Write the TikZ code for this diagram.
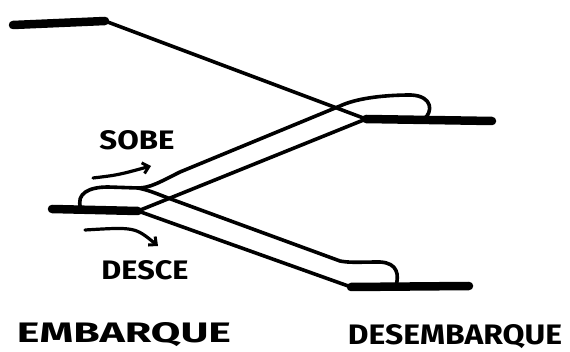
\documentclass[tikz,border=0pt]{standalone}
\usepackage{fontspec}
\setmainfont{Fira Sans}
\usetikzlibrary{arrows.meta}
\begin{document}
\begin{tikzpicture}[x=1pt,y=-1pt,
  thin line/.style={line width=3.6pt,line cap=round,line join=round},
  platform/.style={line width=8.5pt,line cap=round},
  flow/.style={line width=3.2pt,line cap=round,-{Straight Barb[length=6pt,width=11pt,line width=3pt]}},
  label/.style={inner sep=0pt,font=\bfseries}]
\useasboundingbox (0,0) rectangle (570,352);
% named coordinates
\coordinate (tl1) at (13,25);
\coordinate (tl2) at (105,21);
\coordinate (rm1) at (366,119);
\coordinate (rm2) at (492,121);
\coordinate (lp1) at (52,209);
\coordinate (lp2) at (138,211);
\coordinate (bp1) at (351,287);
\coordinate (bp2) at (469,286);
\coordinate (lt) at (138,188);
% top thin line
\draw[thin line] (tl2) -- (rm1);
% left loop + SOBE upper + right loop
\draw[thin line] (81,209) .. controls (75,193) and (90,187) .. (108,187) -- (lt)
  .. controls (150,188) and (160,182) .. (180,172) -- (340,106)
  .. controls (355,99) and (380,95) .. (411,95)
  .. controls (433,96) and (433,112) .. (424,119);
% DESCE upper + bottom loop
\draw[thin line] (lt) .. controls (148,190) and (155,193) .. (168,198) -- (340,261)
  .. controls (350,263) and (360,262) .. (380,262)
  .. controls (398,263) and (399,275) .. (396,286);
% SOBE lower
\draw[thin line] (lp2) -- (rm1);
% DESCE lower
\draw[thin line] (lp2) -- (bp1);
% platforms
\draw[platform] (tl1) -- (tl2);
\draw[platform] (rm1) -- (rm2);
\draw[platform] (lp1) -- (lp2);
\draw[platform] (bp1) -- (bp2);
% arrows
\draw[flow] (93,178) .. controls (118,175) .. (151,166);
\draw[flow] (85,230) .. controls (135,227) .. (158,246);
% labels
\node[label] (sobe) at (137,140) {\resizebox{75pt}{19pt}{SOBE}};
\node[label] (desce) at (145,270) {\resizebox{87pt}{19pt}{DESCE}};
\node[label] (emb) at (124,335) {\resizebox{214pt}{20pt}{EMBARQUE}};
\node[label] (desemb) at (455,337) {\resizebox{214pt}{20pt}{DESEMBARQUE}};
\end{tikzpicture}
\end{document}
